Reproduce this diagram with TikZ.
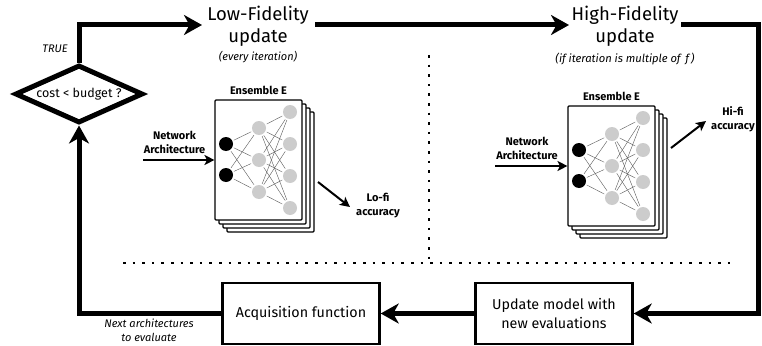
\documentclass[tikz,border=0pt]{standalone}
\usepackage{fontspec}
\setmainfont{Fira Sans}
\usetikzlibrary{shapes.geometric,arrows.meta,calc}
\tikzset{
 x=1pt,y=-1pt,
 main/.style={line width=5pt,line join=miter},
 mainarrow/.style={main,-{Stealth[length=18pt,width=20pt,inset=5.5pt]}},
 small/.style={line width=2pt,-{Stealth[length=10pt,width=10pt,inset=2.5pt]}},
 box/.style={draw,line width=2.4pt,fill=white,minimum width=157pt,minimum height=61pt,align=center,inner sep=0pt,font=\fontsize{14.3}{18.5}\selectfont},
 title/.style={align=center,inner sep=0pt,font=\fontsize{18.5}{22}\selectfont},
 note/.style={align=center,inner sep=0pt,font=\itshape\fontsize{11}{14}\selectfont},
 label/.style={align=center,inner sep=0pt,font=\bfseries\fontsize{11}{14}\selectfont},
 sheet/.style={draw,line width=1.1pt,rounded corners=1pt,fill=white,minimum width=87pt,minimum height=120pt,inner sep=0pt},
 inn/.style={circle,fill=black,minimum size=14pt,inner sep=0pt},
 hid/.style={circle,fill=black!20,minimum size=14pt,inner sep=0pt},
 wire/.style={line width=0.4pt,black!65,shorten >=1.5pt,shorten <=1.5pt},
 dotline/.style={line width=2.6pt,dash pattern=on 2.6pt off 7pt},
}
\newcommand{\ensemble}[3]{%
 \begin{scope}[shift={(#2,#3)}]
  \foreach \k/\o in {d/12,c/8,b/4,a/0}{\node[sheet] (#1s\k) at (258.5+\o,160+\o) {};}
  \foreach \n/\yy in {1/144,2/175}{\node[inn] (#1i\n) at (226,\yy) {};}
  \foreach \n/\yy in {1/128,2/160,3/192}{\node[hid] (#1h\n) at (259,\yy) {};}
  \foreach \n/\yy in {1/112,2/144,3/176,4/208}{\node[hid] (#1o\n) at (290,\yy) {};}
  \foreach \i in {1,2}\foreach \h in {1,2,3}{\draw[wire] (#1i\i)--(#1h\h);}
  \foreach \h in {1,2,3}\foreach \o in {1,2,3,4}{\draw[wire] (#1h\h)--(#1o\o);}
  \node[label] (#1t) at (258.5,90) {Ensemble E};
 \end{scope}}
\begin{document}
\begin{tikzpicture}
\useasboundingbox (0,0) rectangle (762,345);
\node[diamond,draw,line width=5pt,fill=white,aspect=2.2,minimum width=128pt,minimum height=58pt,inner sep=0pt,font=\fontsize{12.5}{15}\selectfont] (dec) at (79,94) {cost < budget ?};
\node[title,anchor=center] (lf) at (258,26) {Low-Fidelity\\update};
\node[title,anchor=center] (hf) at (625,26) {High-Fidelity\\update};
\node[box] (upd) at (554,313.5) {Update model with\\new evaluations};
\node[box] (acq) at (301,313.5) {Acquisition function};
\coordinate (tl) at (79,25);
\coordinate (lfout) at (315,25);
\coordinate (lfin) at (202,25);
\coordinate (hfin) at (569,25);
\coordinate (hfout) at (681,25);
\coordinate (tr) at (758,25);
\coordinate (br) at (758,313.5);
\coordinate (bl) at (79,313.5);
\draw[mainarrow] (dec.north) -- (tl) -- (lfin);
\draw[mainarrow] (lfout) -- (hfin);
\draw[mainarrow] (hfout) -- (tr) -- (br) -- (upd.east);
\draw[mainarrow] (upd.west) -- (acq.east);
\draw[mainarrow] (acq.west) -- (bl) -- (dec.south);
\node[note] (tru) at (55,49) {TRUE};
\node[note] (ev) at (258,57) {(every iteration)};
\node[note,font=\itshape\fontsize{11.2}{14}\selectfont] (mul) at (625,59) {(if iteration is multiple of \,\textit{f}\,)};
\node[note] (nxt) at (149,330) {Next architectures\\to evaluate};
\coordinate (d1) at (429,55);
\coordinate (d2) at (429,263);
\coordinate (d3) at (123,263);
\coordinate (d4) at (730,263);
\draw[dotline] (d1) -- (d2);
\draw[dotline] (d3) -- (d4);
\ensemble{a}{0}{0}
\ensemble{b}{353}{6}
\node[label] (na) at (174.5,142) {Network\\Architecture};
\coordinate (naf) at (143,160);
\draw[small] (naf) -- (asa.west);
\node[label] (nb) at (527,148) {Network\\Architecture};
\coordinate (nbf) at (495,166);
\draw[small] (nbf) -- (bsa.west);
\coordinate (l1) at (318,182);
\coordinate (l2) at (350,207);
\draw[small] (l1) -- (l2);
\node[label] (lo) at (378,206) {Lo-fi\\accuracy};
\coordinate (h1) at (671,148);
\coordinate (h2) at (706,121);
\draw[small] (h1) -- (h2);
\node[label] (hi) at (733,119) {Hi-fi\\accuracy};
\end{tikzpicture}
\end{document}
